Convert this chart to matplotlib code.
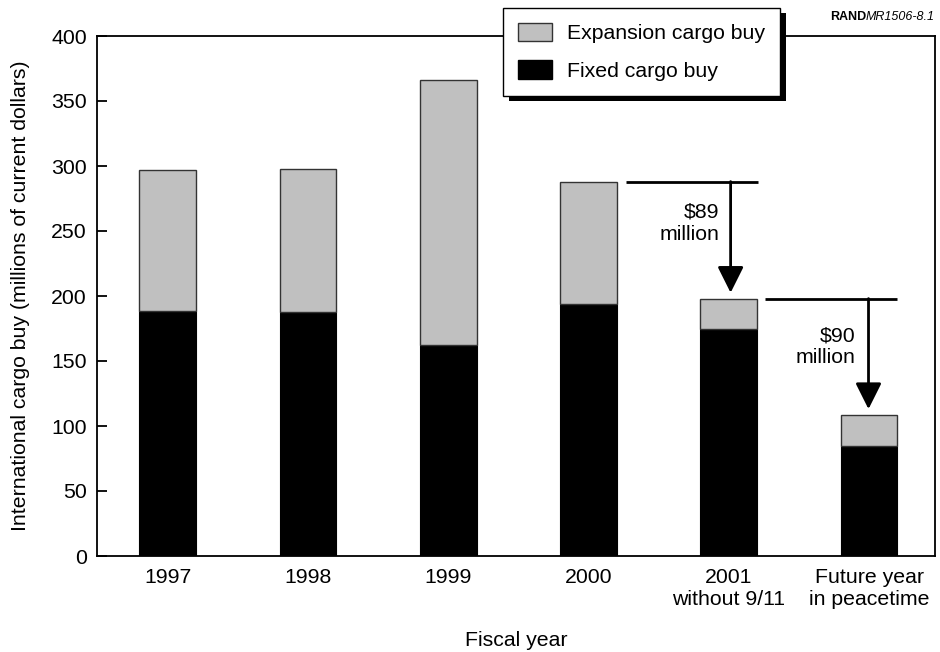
import matplotlib
matplotlib.use("Agg")
import matplotlib.pyplot as plt
from matplotlib.patches import Patch, Rectangle
from matplotlib.transforms import IdentityTransform
import numpy as np

# ---- data ----
categories = ["1997", "1998", "1999", "2000", "2001\nwithout 9/11", "Future year\nin peacetime"]
fixed_buy = [188.5, 187.5, 162.0, 193.5, 174.5, 85.0]
total_buy = [297.0, 298.0, 366.0, 288.0, 198.0, 108.5]
expansion_buy = [t - f for t, f in zip(total_buy, fixed_buy)]
drop_labels = ["$89\nmillion", "$90\nmillion"]
y_ticks = [0, 50, 100, 150, 200, 250, 300, 350, 400]

plt.rcParams['font.family'] = ['Liberation Sans', 'DejaVu Sans']
FS = 15.3

W, H = 940, 652
fig = plt.figure(figsize=(W / 100, H / 100), dpi=100)
ax = fig.add_axes([96.7 / W, 1 - 556 / H, (935 - 96.7) / W, (556 - 36) / H])

x = np.arange(len(categories))
bw = 0.404
ax.bar(x, fixed_buy, bw, color='black', edgecolor='black', linewidth=0.8, zorder=3)
ax.bar(x, expansion_buy, bw, bottom=fixed_buy, color='#c0c0c0', edgecolor='#333333',
       linewidth=1.0, zorder=3)

ax.set_xlim(-0.506, 5.47)
ax.set_ylim(0, 400)
ax.set_yticks(y_ticks)
ax.set_xticks(x)
ax.set_xticklabels(categories, linespacing=1.19)
ax.tick_params(axis='y', direction='in', length=7, width=1.3, pad=7, labelsize=FS)
ax.tick_params(axis='x', length=0, pad=8.5, labelsize=FS)
for s in ax.spines.values():
    s.set_linewidth(1.3)

# ---- drop annotations ----
gap = 4.5
segs = [(3, 4, 3.27, 4.21, 4.013, 3.93, 271.8), (4, 5, 4.257, 5.196, 4.996, 4.905, 176.6)]
for (i_from, i_to, x0, x1, xa, xt, yt), lab in zip(segs, drop_labels):
    y_line = total_buy[i_from]
    ax.plot([x0, x1], [y_line, y_line], color='black', lw=2, solid_capstyle='butt', zorder=4)
    ax.annotate('', xy=(xa, total_buy[i_to] + gap), xytext=(xa, y_line),
                arrowprops=dict(arrowstyle='-|>,head_length=0.8,head_width=0.4',
                                mutation_scale=20, lw=2, color='black',
                                shrinkA=0, shrinkB=0), zorder=4)
    ax.text(xt, yt, lab, ha='right', va='top', fontsize=FS, linespacing=1.2, zorder=4)

ax.set_ylabel("International cargo buy (millions of current dollars)", fontsize=FS)
ax.yaxis.set_label_coords(-0.0796, 0.5)
ax.set_xlabel("Fiscal year", fontsize=FS)
ax.xaxis.set_label_coords(0.5, -(631 - 556) / (556 - 36))

# ---- legend ----
handles = [Patch(facecolor='#c0c0c0', edgecolor='#333333', linewidth=1.0, label='Expansion cargo buy'),
           Patch(facecolor='black', edgecolor='black', label='Fixed cargo buy')]
leg = ax.legend(handles=handles, loc='upper left', bbox_to_anchor=(503 / W, 1 - 8 / H),
                bbox_transform=fig.transFigure, borderaxespad=0, fontsize=FS,
                frameon=True, fancybox=False, shadow=False, borderpad=0.7,
                labelspacing=0.8, handlelength=1.6, handleheight=0.95, handletextpad=0.7)
leg.get_frame().set_edgecolor('black')
leg.get_frame().set_linewidth(1.0)
leg.get_frame().set_alpha(1)
leg.set_zorder(6)

# ---- RAND tag ----
t_it = fig.text(935 / W, 1 - 20 / H, "MR1506-8.1", ha='right', va='baseline',
                style='italic', fontsize=9)
ax.annotate("RAND", xy=(0, 0), xycoords=t_it, ha='right', va='bottom',
            fontweight='bold', fontsize=9, annotation_clip=False)

fig.canvas.draw()
bb = leg.get_window_extent()
shadow = Rectangle((bb.x0 + 6, bb.y0 - 5), bb.width, bb.height, transform=IdentityTransform(),
                   facecolor='black', edgecolor='none', zorder=5.5, clip_on=False)
ax.add_artist(shadow)

fig.savefig("out.png", dpi=100)
